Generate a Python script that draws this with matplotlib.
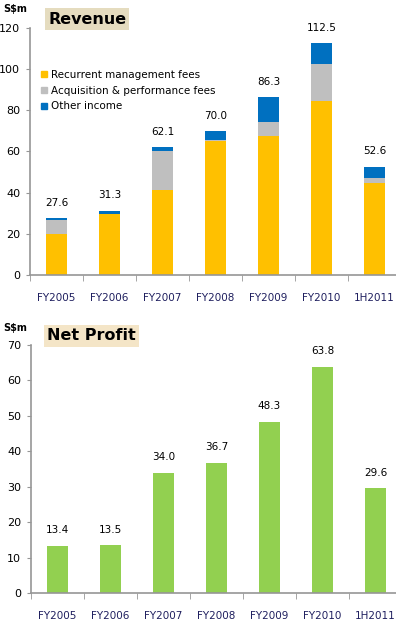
import numpy as np
import matplotlib.pyplot as plt
from matplotlib.lines import Line2D

# ~ ~ ~ data ~ ~ ~
years = ['FY2005', 'FY2006', 'FY2007', 'FY2008', 'FY2009', 'FY2010', '1H2011']
recurrent = [19.9, 29.6, 41.1, 65.0, 67.3, 84.5, 44.7]
acquisition = [6.9, 0.0, 19.1, 0.5, 7.0, 17.9, 2.5]
other = [0.8, 1.7, 1.9, 4.5, 12.0, 10.1, 5.4]
rev_total = [27.6, 31.3, 62.1, 70.0, 86.3, 112.5, 52.6]
net_profit = [13.4, 13.5, 34.0, 36.7, 48.3, 63.8, 29.6]

c_yellow = '#FFC000'
c_grey = '#BFBFBF'
c_blue = '#0070C0'
c_green = '#92D050'
c_axis = '#969696'

W, H = 396, 623
fig = plt.figure(figsize=(W / 100, H / 100), dpi=100)
plt.rcParams['font.family'] = 'DejaVu Sans'


def px_axes(x0, y_top, x1, y_bot):
    # pixel box -> figure fraction
    return fig.add_axes([x0 / W, 1 - y_bot / H, (x1 - x0) / W, (y_bot - y_top) / H])


def style(ax, ymax, step):
    x = np.arange(len(years))
    ax.set_xlim(-0.5, len(years) - 0.5)
    ax.set_ylim(0, ymax)
    ax.set_yticks(np.arange(0, ymax + 1, step))
    ax.tick_params(axis='y', labelsize=8, length=3, color=c_axis, pad=4)
    # category labels in the middle, tick marks on the boundaries
    ax.set_xticks(x)
    ax.set_xticklabels(years, fontsize=7.5, color='#1F1F5F')
    ax.tick_params(axis='x', length=0, pad=13)
    ax.set_xticks(np.arange(-0.5, len(years)), minor=True)
    ax.tick_params(axis='x', which='minor', length=4, color=c_axis, direction='out')
    for s in ['top', 'right']:
        ax.spines[s].set_visible(False)
    for s in ['left', 'bottom']:
        ax.spines[s].set_color(c_axis)
        ax.spines[s].set_linewidth(1.2)
    return x


# ~ ~ ~ Revenue ~ ~ ~
ax1 = px_axes(30, 28, 401, 275)
x = style(ax1, 120, 20)
bw = 0.4
ax1.bar(x, recurrent, bw, color=c_yellow)
ax1.bar(x, acquisition, bw, bottom=recurrent, color=c_grey)
bottom2 = np.array(recurrent) + np.array(acquisition)
ax1.bar(x, other, bw, bottom=bottom2, color=c_blue)
for xi, v in zip(x, rev_total):
    ax1.text(xi, v + 5, f'{v:.1f}', ha='center', va='bottom', fontsize=7.5)

handles = [Line2D([], [], marker='s', ls='', color=c, markersize=5)
           for c in [c_yellow, c_grey, c_blue]]
ax1.legend(handles, ['Recurrent management fees', 'Acquisition & performance fees',
                     'Other income'],
           loc='upper left', bbox_to_anchor=(11 / 371, 0.83), frameon=False,
           fontsize=7.5, handlelength=0.6, handletextpad=0.4, labelspacing=0.55,
           borderaxespad=0, borderpad=0)

fig.text(3 / W, 1 - 9 / H, 'S$m', fontsize=7, fontweight='bold', va='center')
fig.text(48 / W, 1 - 19 / H, 'Revenue', fontsize=11.5, fontweight='bold', va='center',
         bbox=dict(boxstyle='square,pad=0.2', fc='#E5DCBF', ec='none'))

# ~ ~ ~ Net Profit ~ ~ ~
ax2 = px_axes(31, 345, 402, 593)
x = style(ax2, 70, 10)
ax2.bar(x, net_profit, bw, color=c_green)
for xi, v in zip(x, net_profit):
    ax2.text(xi, v + 3, f'{v:.1f}', ha='center', va='bottom', fontsize=7.5)

fig.text(3 / W, 1 - 328 / H, 'S$m', fontsize=7, fontweight='bold', va='center')
fig.text(47 / W, 1 - 336 / H, 'Net Profit', fontsize=11.5, fontweight='bold', va='center',
         bbox=dict(boxstyle='square,pad=0.2', fc='#F4E5C7', ec='none'))

fig.savefig('out.png', dpi=100)
